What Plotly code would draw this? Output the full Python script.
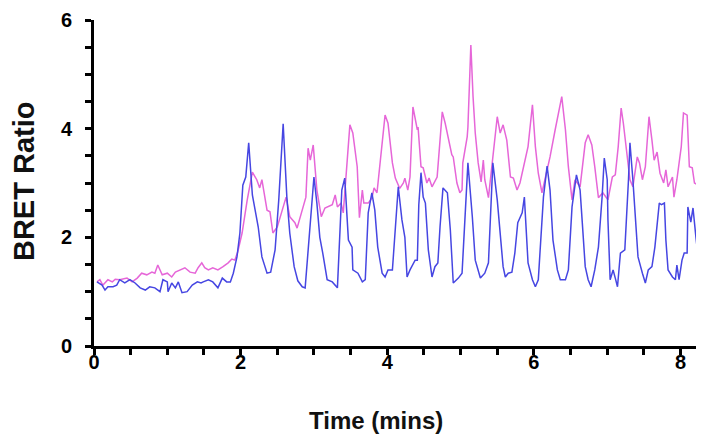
import plotly.graph_objects as go

# blue trace (time in mins, BRET ratio)
blue_t = [0.04, 0.11, 0.15, 0.19, 0.26, 0.31, 0.35, 0.42, 0.49, 0.56, 0.63, 0.70, 0.76, 0.83, 0.90,
          0.94, 1.00, 1.01, 1.06, 1.11, 1.15, 1.20, 1.27, 1.34, 1.41, 1.46, 1.49, 1.56, 1.62, 1.69,
          1.75, 1.81, 1.86, 1.90, 1.95, 1.99, 2.03, 2.07, 2.11, 2.16, 2.24, 2.29, 2.36, 2.41, 2.47,
          2.52, 2.58, 2.63, 2.67, 2.73, 2.78, 2.84, 2.88, 2.95, 3.00, 3.04, 3.08, 3.12, 3.18, 3.25,
          3.32, 3.36, 3.38, 3.42, 3.47, 3.52, 3.53, 3.60, 3.66, 3.70, 3.74, 3.79, 3.83, 3.87, 3.93,
          3.97, 4.01, 4.07, 4.13, 4.15, 4.20, 4.24, 4.27, 4.31, 4.38, 4.41, 4.43, 4.46, 4.49, 4.52,
          4.56, 4.61, 4.65, 4.69, 4.72, 4.76, 4.82, 4.86, 4.90, 4.97, 5.02, 5.06, 5.10, 5.16, 5.20,
          5.27, 5.33, 5.38, 5.44, 5.50, 5.54, 5.58, 5.61, 5.65, 5.70, 5.74, 5.78, 5.84, 5.87, 5.89,
          5.92, 5.98, 6.02, 6.06, 6.13, 6.18, 6.22, 6.26, 6.32, 6.36, 6.43, 6.47, 6.52, 6.58, 6.63,
          6.66, 6.70, 6.74, 6.78, 6.83, 6.88, 6.93, 6.96, 7.00, 7.01, 7.04, 7.08, 7.11, 7.14, 7.18,
          7.20, 7.24, 7.29, 7.31, 7.35, 7.39, 7.42, 7.48, 7.52, 7.56, 7.61, 7.65, 7.68, 7.71, 7.74,
          7.78, 7.80, 7.83, 7.89, 7.93, 7.95, 7.98, 8.02, 8.05, 8.09, 8.10, 8.14, 8.17, 8.21, 8.24,
          8.29, 8.33]
blue_v = [1.18, 1.12, 1.03, 1.09, 1.09, 1.12, 1.22, 1.16, 1.22, 1.16, 1.07, 1.03, 1.09, 1.07, 1.00,
          1.22, 1.18, 1.00, 1.16, 1.07, 1.18, 0.98, 1.00, 1.12, 1.18, 1.16, 1.18, 1.22, 1.18, 1.07,
          1.25, 1.18, 1.18, 1.34, 1.64, 2.08, 2.96, 3.11, 3.74, 2.78, 2.19, 1.64, 1.34, 1.36, 1.77,
          2.69, 4.09, 2.75, 2.08, 1.46, 1.20, 1.09, 1.07, 2.27, 3.11, 2.63, 2.00, 1.71, 1.22, 1.18,
          1.07, 2.27, 2.87, 3.09, 1.95, 1.82, 1.40, 1.34, 1.18, 1.22, 2.45, 2.82, 2.50, 1.82, 1.34,
          1.27, 1.40, 1.40, 2.69, 2.93, 2.32, 2.00, 1.27, 1.40, 1.58, 1.58, 2.60, 3.19, 2.74, 2.63,
          1.77, 1.27, 1.46, 1.53, 2.20, 2.91, 2.82, 2.14, 1.16, 1.25, 1.34, 2.27, 3.37, 2.38, 1.58,
          1.25, 1.34, 1.53, 3.37, 2.69, 2.00, 1.46, 1.27, 1.34, 1.36, 1.71, 2.27, 2.45, 2.74, 2.14,
          1.53, 1.22, 1.09, 1.22, 2.74, 3.31, 2.87, 1.95, 1.40, 1.22, 1.22, 1.40, 2.56, 3.15, 2.87,
          2.27, 1.46, 1.22, 1.09, 1.40, 1.82, 2.74, 3.46, 3.06, 2.32, 1.22, 1.40, 1.25, 1.09, 1.71,
          1.73, 1.77, 3.06, 3.74, 3.06, 2.27, 1.64, 1.34, 1.16, 1.40, 1.46, 1.82, 2.19, 2.63, 2.60,
          2.63, 1.95, 1.40, 1.27, 1.22, 1.49, 1.22, 1.58, 1.71, 1.71, 2.56, 2.28, 2.54, 2.00, 1.64,
          1.22, 1.16]

# magenta trace
pink_t = [0.04, 0.08, 0.12, 0.19, 0.25, 0.29, 0.35, 0.45, 0.52, 0.59, 0.65, 0.72, 0.79, 0.83, 0.87,
          0.93, 1.00, 1.06, 1.11, 1.17, 1.24, 1.31, 1.38, 1.42, 1.47, 1.51, 1.56, 1.62, 1.69, 1.76,
          1.83, 1.88, 1.92, 1.96, 2.02, 2.09, 2.16, 2.22, 2.26, 2.29, 2.36, 2.40, 2.44, 2.50, 2.62,
          2.67, 2.74, 2.77, 2.84, 2.89, 2.92, 2.95, 2.99, 3.04, 3.10, 3.15, 3.25, 3.29, 3.32, 3.37,
          3.40, 3.45, 3.49, 3.53, 3.59, 3.62, 3.66, 3.68, 3.74, 3.79, 3.82, 3.86, 3.93, 3.97, 4.01,
          4.07, 4.11, 4.17, 4.22, 4.24, 4.28, 4.31, 4.35, 4.41, 4.42, 4.46, 4.49, 4.54, 4.57, 4.61,
          4.68, 4.72, 4.75, 4.79, 4.83, 4.88, 4.90, 4.95, 4.99, 5.02, 5.03, 5.09, 5.10, 5.14, 5.17,
          5.20, 5.24, 5.28, 5.31, 5.33, 5.38, 5.43, 5.50, 5.54, 5.58, 5.63, 5.68, 5.72, 5.77, 5.81,
          5.88, 5.92, 5.98, 6.02, 6.06, 6.11, 6.15, 6.22, 6.29, 6.38, 6.43, 6.47, 6.52, 6.56, 6.63,
          6.70, 6.74, 6.79, 6.83, 6.88, 6.94, 7.01, 7.07, 7.11, 7.15, 7.19, 7.22, 7.27, 7.31, 7.35,
          7.41, 7.44, 7.48, 7.52, 7.57, 7.61, 7.64, 7.68, 7.72, 7.77, 7.80, 7.83, 7.89, 7.91, 7.95,
          8.01, 8.04, 8.09, 8.12, 8.16, 8.19, 8.23, 8.27, 8.34]
pink_v = [1.18, 1.22, 1.12, 1.22, 1.18, 1.23, 1.22, 1.25, 1.18, 1.25, 1.34, 1.31, 1.36, 1.34, 1.49,
          1.31, 1.34, 1.27, 1.36, 1.40, 1.44, 1.36, 1.34, 1.44, 1.53, 1.44, 1.40, 1.44, 1.40, 1.46,
          1.53, 1.60, 1.58, 1.73, 2.08, 2.69, 3.20, 3.06, 2.91, 3.06, 2.50, 2.47, 2.08, 2.19, 2.74,
          2.38, 2.27, 2.17, 2.50, 2.74, 3.64, 3.42, 3.70, 2.87, 2.38, 2.54, 2.60, 2.78, 2.56, 2.63,
          2.45, 3.37, 4.07, 3.92, 3.30, 2.36, 2.87, 2.63, 2.63, 2.72, 2.91, 2.82, 3.67, 4.25, 4.10,
          3.37, 3.09, 2.90, 3.00, 3.09, 2.87, 3.11, 4.40, 3.98, 4.03, 3.30, 3.28, 3.00, 3.09, 2.93,
          3.11, 3.79, 4.31, 4.10, 3.85, 3.52, 3.48, 3.00, 2.82, 2.87, 3.37, 3.85, 4.03, 5.54, 4.59,
          3.92, 3.37, 3.02, 3.42, 3.06, 2.73, 3.37, 4.22, 3.92, 4.07, 3.79, 3.11, 3.09, 2.87, 3.00,
          3.42, 3.67, 4.44, 3.67, 3.18, 2.82, 3.06, 3.48, 3.98, 4.59, 3.98, 3.30, 2.69, 3.06, 2.93,
          3.74, 3.89, 3.70, 3.30, 2.73, 2.82, 2.69, 3.11, 3.15, 3.67, 4.38, 4.10, 3.55, 3.06, 2.93,
          3.48, 3.37, 3.06, 3.30, 4.22, 3.79, 3.42, 3.57, 3.18, 3.00, 3.24, 2.93, 3.11, 2.74, 3.06,
          3.67, 4.29, 4.25, 3.30, 3.28, 3.00, 2.97, 2.74, 2.45]

x_ticks = [0, 2, 4, 6, 8]
y_ticks = [0, 2, 4, 6]

fig = go.Figure()
fig.add_trace(go.Scatter(x=pink_t, y=pink_v, mode="lines",
                         line=dict(color="#e666d8", width=1.5), showlegend=False))
fig.add_trace(go.Scatter(x=blue_t, y=blue_v, mode="lines",
                         line=dict(color="#4646e2", width=1.5), showlegend=False))

# page body puts the figure 8px in from the top-left, so the figure is sized to end at the window edge
tickfont = dict(family="Liberation Sans", size=20, color="black", weight="bold")
fig.update_layout(
    width=696,
    height=428,
    margin=dict(l=86, r=0, t=12, b=90),
    plot_bgcolor="white",
    paper_bgcolor="white",
)
fig.update_xaxes(
    range=[0, 8.32],
    tickvals=x_ticks,
    automargin=False,
    showgrid=False, zeroline=False,
    showline=True, linewidth=3, linecolor="black",
    ticks="outside", ticklen=6, tickwidth=3, tickcolor="black",
    minor=dict(dtick=0.5, ticks="outside", ticklen=6, tickwidth=3, tickcolor="black"),
    tickfont=tickfont,
    ticklabelstandoff=-10,
)
fig.update_yaxes(
    range=[0, 6],
    tickvals=y_ticks,
    automargin=False,
    showgrid=False, zeroline=False,
    showline=True, linewidth=3, linecolor="black",
    ticks="outside", ticklen=6, tickwidth=3, tickcolor="black",
    minor=dict(dtick=0.5, ticks="outside", ticklen=6, tickwidth=3, tickcolor="black"),
    tickfont=tickfont,
    ticklabelstandoff=9,
)
fig.add_annotation(text="<b>BRET Ratio</b>", textangle=-90, showarrow=False,
                   xref="paper", yref="paper", x=-0.1148, y=0.506, xanchor="center", yanchor="middle",
                   font=dict(family="Liberation Sans", size=29, color="#111111"))
fig.add_annotation(text="<b>Time (mins)</b>", showarrow=False,
                   xref="paper", yref="paper", x=0.462, y=-0.23, xanchor="center", yanchor="middle",
                   font=dict(family="Liberation Sans", size=24, color="#111111"))

fig.write_html("out.html")
